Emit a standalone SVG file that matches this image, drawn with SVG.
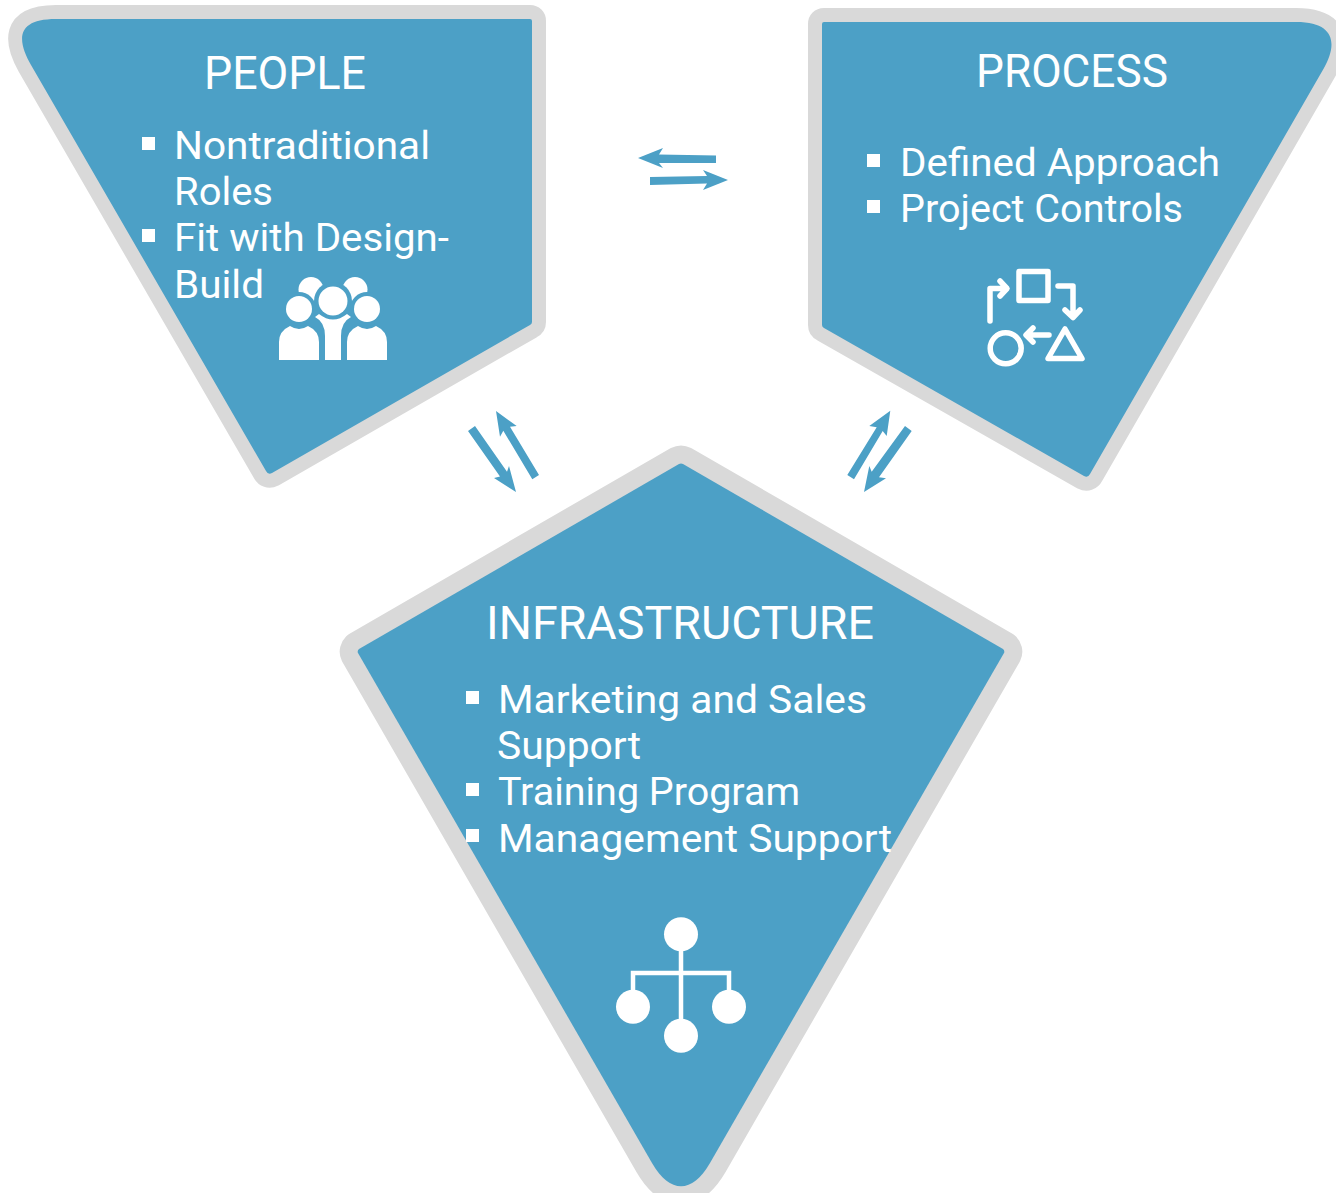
<svg xmlns="http://www.w3.org/2000/svg" width="1336" height="1193" viewBox="0 0 1336 1193">
<style>
.f{fill:#4ca0c6}
.o{fill:#d9d9d9;stroke:#d9d9d9;stroke-width:28;stroke-linejoin:round}
.o2{fill:#d9d9d9;stroke:#d9d9d9;stroke-width:36;stroke-linejoin:round}
text{fill:#fff;font-family:Roboto,"Liberation Sans",sans-serif;font-weight:400}
.h{font-size:46px}
.b{font-size:39px}
.w{fill:#fff}
.k{fill:#4ca0c6}
.l{fill:none;stroke:#fff;stroke-width:5.500;stroke-linejoin:round;stroke-linecap:round}
</style>
<defs>
<path id="pPeople" d="M56,19 L530,19 Q532,19 532,21 L532,322 Q532,324 530,325 L272,473 Q268,475 266,471 L31,65 C18,42 14,19 56,19 Z"/>
<path id="pProcess" d="M824,22 L1296,22 C1338,22 1336,47 1324,68 L1090,474 Q1088,478 1084,476 L824,328 Q822,327 822,325 L822,24 Q822,22 824,22 Z"/>
<path id="pInfra" d="M679,464 Q681,463 683,464 L1003,649 Q1005,651 1004,653 L710,1163 C692,1194 670,1194 652,1163 L358,653 Q357,651 359,649 Z"/>
</defs>
<g id="people">
<use href="#pPeople" class="o"/><use href="#pPeople" class="f"/>
<text class="h" x="204" y="89" textLength="162" lengthAdjust="spacingAndGlyphs">PEOPLE</text>
<rect class="w" x="142" y="137" width="13" height="13"/>
<rect class="w" x="142" y="229" width="13" height="13"/>
<text class="b" x="174" y="159" textLength="256" lengthAdjust="spacingAndGlyphs">Nontraditional</text>
<text class="b" x="174" y="205" textLength="99" lengthAdjust="spacingAndGlyphs">Roles</text>
<text class="b" x="174" y="251" textLength="275" lengthAdjust="spacingAndGlyphs">Fit with Design-</text>
<text class="b" x="174" y="298" textLength="90" lengthAdjust="spacingAndGlyphs">Build</text>
<g id="people-icon">
<circle class="w" cx="311" cy="289.500" r="12.500"/><circle class="w" cx="355" cy="289.500" r="12.500"/>
<circle class="k" cx="333" cy="301" r="19"/><circle class="k" cx="299" cy="309" r="17"/><circle class="k" cx="367" cy="309" r="17"/>
<circle class="w" cx="333" cy="301" r="14.500"/><circle class="w" cx="299" cy="309" r="13"/><circle class="w" cx="367" cy="309" r="13"/>
<path class="w" d="M279,360 V342 Q279,331 290,326 Q299,332 308,326 Q319,331 319,342 V360 Z"/>
<path class="w" d="M347,360 V342 Q347,331 358,326 Q367,332 376,326 Q387,331 387,342 V360 Z"/>
<path class="w" d="M315,317 L319,314 Q333,325 347,314 L351,317 Q341,322 341,336 V360 H325 V336 Q325,322 315,317 Z"/>
</g>
</g>
<g id="process">
<use href="#pProcess" class="o"/><use href="#pProcess" class="f"/>
<text class="h" x="976" y="87" textLength="192" lengthAdjust="spacingAndGlyphs">PROCESS</text>
<rect class="w" x="867" y="154" width="13" height="13"/>
<rect class="w" x="867" y="200" width="13" height="13"/>
<text class="b" x="900" y="176" textLength="320" lengthAdjust="spacingAndGlyphs">Defined Approach</text>
<text class="b" x="900" y="222" textLength="283" lengthAdjust="spacingAndGlyphs">Project Controls</text>
<g id="process-icon">
<rect class="l" x="1019" y="271.500" width="29" height="29"/>
<path class="l" d="M990,321 V288.500 H1005 M1000,281 L1007,288.500 L1000,296"/>
<path class="l" d="M1058,286 H1073 V315 M1065,310 L1073,317.500 L1080,310"/>
<path class="l" d="M1049,335 H1028 M1033,328 L1026,335 L1033,342"/>
<circle class="l" cx="1005.700" cy="348.300" r="15.500"/>
<path class="l" d="M1065,329 L1082,358.500 H1048 Z"/>
</g>
</g>
<g id="infrastructure">
<use href="#pInfra" class="o2"/><use href="#pInfra" class="f"/>
<text class="h" x="486" y="639" textLength="388" lengthAdjust="spacingAndGlyphs">INFRASTRUCTURE</text>
<rect class="w" x="466" y="691" width="13" height="13"/>
<rect class="w" x="466" y="783" width="13" height="13"/>
<rect class="w" x="466" y="829" width="13" height="13"/>
<text class="b" x="498" y="713" textLength="369" lengthAdjust="spacingAndGlyphs">Marketing and Sales</text>
<text class="b" x="497" y="759" textLength="144" lengthAdjust="spacingAndGlyphs">Support</text>
<text class="b" x="498" y="805" textLength="302" lengthAdjust="spacingAndGlyphs">Training Program</text>
<text class="b" x="498" y="852" textLength="394" lengthAdjust="spacingAndGlyphs">Management Support</text>
<g id="infrastructure-icon">
<path d="M681,934 V1036 M633,1007 V973 H729 V1007" fill="none" stroke="#fff" stroke-width="4.500"/>
<circle class="w" cx="681" cy="934.300" r="17"/><circle class="w" cx="633" cy="1006.700" r="17"/><circle class="w" cx="729" cy="1006.700" r="17"/><circle class="w" cx="681" cy="1035.700" r="17"/>
</g>
</g>
<g id="connectors" fill="#4ca0c6">
<polygon points="638,158 663,148 659,154.500 716,155.500 716,163 659,163 663,168"/>
<polygon points="650,177 707,176 703,170 728,180 703,190 707,183.500 650,185"/>
<polygon points="468,431 475,426 507,471.700 509,466 516,492 494,478 500,476.500"/>
<polygon points="496,411 516.700,426 510,426.700 539,475 532.300,479.300 503.300,430.700 500,436.700"/>
<polygon points="890.300,410.700 886.700,436 882.700,431 854,479.300 847.300,475 876.700,427.300 869.300,426"/>
<polygon points="905,426 911.700,431 879,477.300 886,478.300 864,492 869.300,466 871.700,471.700"/>
</g>
</svg>
